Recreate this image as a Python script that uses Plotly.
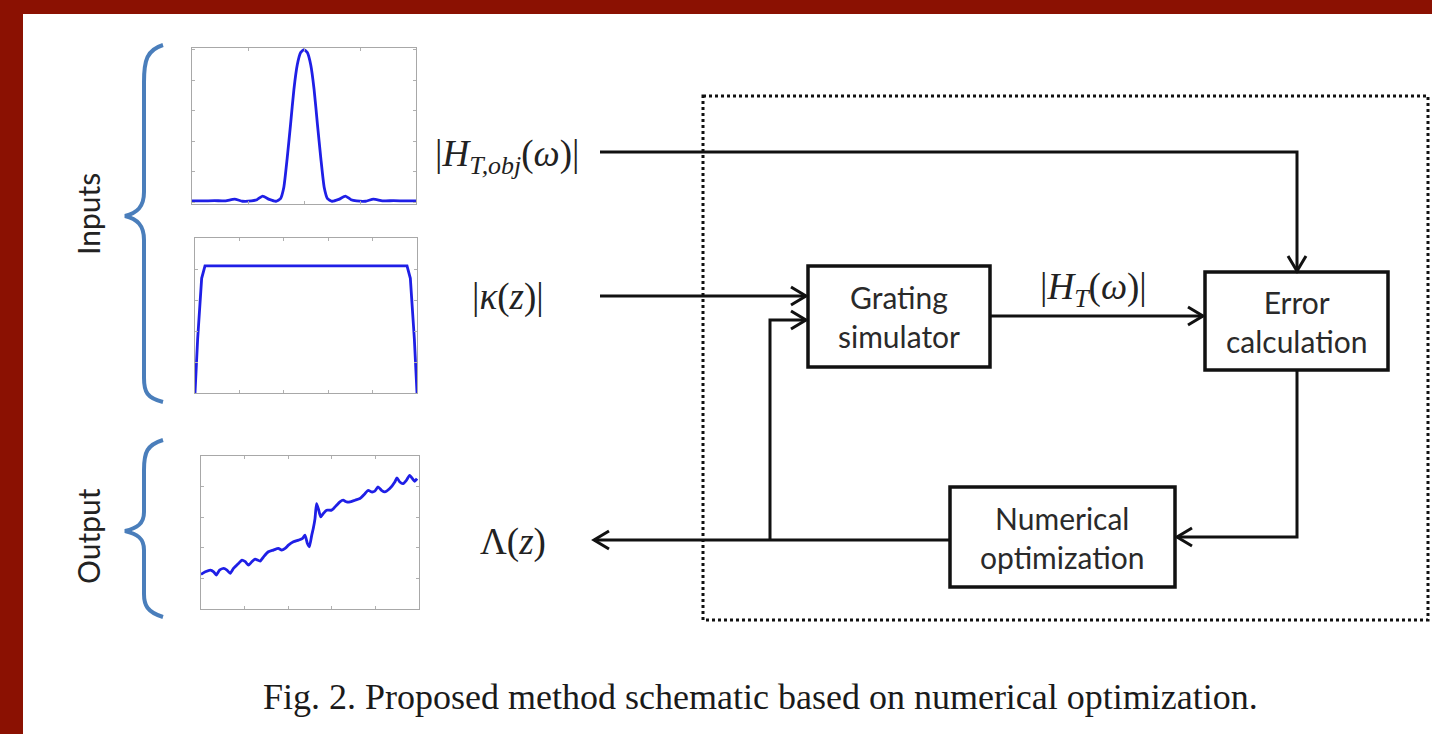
import plotly.graph_objects as go

W, H = 1432, 734

# ---- data for the three small inset plots ----
# Target transmission |H_T,obj(w)| vs normalized frequency
freq = [-1.0, -0.9, -0.8, -0.7, -0.62, -0.55, -0.47, -0.42, -0.37, -0.31, -0.25,
        -0.21, -0.18, -0.15, -0.12, -0.09, -0.06, -0.03, 0.0,
        0.03, 0.06, 0.09, 0.12, 0.15, 0.18, 0.21, 0.25, 0.31, 0.37, 0.42,
        0.47, 0.55, 0.62, 0.7, 0.8, 0.9, 1.0]
h_obj = [0.010, 0.010, 0.012, 0.010, 0.022, 0.008, 0.010, 0.018, 0.042, 0.020, 0.008,
         0.025, 0.100, 0.290, 0.510, 0.740, 0.900, 0.980, 1.000,
         0.980, 0.900, 0.740, 0.510, 0.290, 0.100, 0.025, 0.008, 0.020, 0.042, 0.018,
         0.010, 0.008, 0.022, 0.010, 0.012, 0.010, 0.010]

# Coupling profile |kappa(z)| vs normalized position
z_kappa = [0.0, 0.012, 0.03, 0.045, 0.5, 0.955, 0.97, 0.988, 1.0]
kappa = [0.0, 0.35, 0.74, 0.82, 0.82, 0.82, 0.74, 0.35, 0.0]

# Output period profile Lambda(z) vs normalized position
z_lambda = [0.000, 0.020, 0.043, 0.058, 0.070, 0.085, 0.104, 0.119, 0.134, 0.149,
            0.172, 0.188, 0.203, 0.218, 0.233, 0.248, 0.271, 0.287, 0.309, 0.332,
            0.355, 0.370, 0.386, 0.401, 0.424, 0.447, 0.466, 0.477, 0.488, 0.497,
            0.508, 0.515, 0.523, 0.530, 0.538, 0.549, 0.561, 0.576, 0.599, 0.622,
            0.637, 0.652, 0.668, 0.683, 0.706, 0.729, 0.752, 0.767, 0.782, 0.797,
            0.812, 0.828, 0.843, 0.866, 0.889, 0.899, 0.912, 0.927, 0.942, 0.957,
            0.970, 0.980, 0.991]
lam = [0.226, 0.243, 0.254, 0.243, 0.222, 0.254, 0.265, 0.254, 0.233, 0.265,
       0.298, 0.320, 0.309, 0.287, 0.309, 0.326, 0.313, 0.341, 0.374, 0.385,
       0.396, 0.385, 0.396, 0.417, 0.439, 0.450, 0.461, 0.483, 0.428, 0.407,
       0.483, 0.526, 0.591, 0.689, 0.657, 0.602, 0.624, 0.646, 0.646, 0.678,
       0.700, 0.711, 0.700, 0.700, 0.711, 0.722, 0.754, 0.776, 0.765, 0.770,
       0.798, 0.776, 0.765, 0.787, 0.830, 0.857, 0.830, 0.820, 0.841, 0.874,
       0.852, 0.835, 0.852]

# ---- diagram text ----
box_labels = ["Grating<br>simulator", "Error<br>calculation", "Numerical<br>optimization"]
signal_labels = ["|<i>H</i><sub><i>T,obj</i></sub>(<i>ω</i>)|", "|<i>κ</i>(<i>z</i>)|",
                 "|<i>H</i><sub><i>T</i></sub>(<i>ω</i>)|", "Λ(<i>z</i>)"]
group_labels = ["Inputs", "Output"]
caption = "Fig. 2. Proposed method schematic based on numerical optimization."

BLUE = "#1f1fe6"
BRACE = "#4a7ebb"
RED = "#8b1102"
INK = "#111111"

fig = go.Figure()

# inset plot frames (pixel boxes: x0, x1, ytop, ybottom)
insets = [(192, 416, 48, 204), (195, 417, 238, 393), (201, 419, 456, 609)]
series = [(freq, h_obj, [-1, 1], [-0.01, 1.01], "spline"),
          (z_kappa, kappa, [0, 1], [0, 1], "linear"),
          (z_lambda, lam, [0, 1], [0, 1], "spline")]

layout_axes = {}
for i, ((x0, x1, yt, yb), (xs, ys, xr, yr, shp)) in enumerate(zip(insets, series), start=2):
    line = dict(color=BLUE, width=2.8, shape=shp)
    if shp == "spline":
        line["smoothing"] = 0.5
    fig.add_trace(go.Scatter(x=xs, y=ys, mode="lines", xaxis=f"x{i}", yaxis=f"y{i}",
                             line=line, showlegend=False, hoverinfo="skip"))
    ax = dict(range=xr, domain=[x0 / W, x1 / W], anchor=f"y{i}", showgrid=False,
              zeroline=False, showticklabels=False, showline=True, mirror="ticks",
              linecolor="#a8a8a8", linewidth=1, ticks="inside", ticklen=3,
              tickcolor="#b0b0b0", nticks=7, fixedrange=True)
    ay = dict(range=yr, domain=[1 - yb / H, 1 - yt / H], anchor=f"x{i}", showgrid=False,
              zeroline=False, showticklabels=False, showline=True, mirror="ticks",
              linecolor="#a8a8a8", linewidth=1, ticks="inside", ticklen=3,
              tickcolor="#b0b0b0", nticks=9, fixedrange=True)
    layout_axes[f"xaxis{i}"] = ax
    layout_axes[f"yaxis{i}"] = ay

shapes = []
# white panel over red background
shapes.append(dict(type="rect", xref="x", yref="y", x0=23, y0=14, x1=W + 5, y1=H + 5,
                   fillcolor="white", line=dict(width=0), layer="below"))
# dotted frame
shapes.append(dict(type="rect", xref="x", yref="y", x0=703, y0=96, x1=1428, y1=620,
                   line=dict(color=INK, width=3, dash="dot"), layer="below"))

# boxes: x0, x1, y0, y1
boxes = [(808, 990, 266, 367), (1205, 1388, 272, 370), (950, 1175, 487, 587)]
for (bx0, bx1, by0, by1) in boxes:
    shapes.append(dict(type="rect", xref="x", yref="y", x0=bx0, x1=bx1, y0=by0, y1=by1,
                       line=dict(color=INK, width=3.5), fillcolor="white"))

def polyline(pts, width=3):
    d = "M " + " L ".join(f"{x},{y}" for x, y in pts)
    shapes.append(dict(type="path", xref="x", yref="y", path=d,
                       line=dict(color=INK, width=width)))

def head(x, y, direction):
    L, Wd = 15, 9
    if direction == "right":
        pts = [(x - L, y - Wd), (x, y), (x - L, y + Wd)]
    elif direction == "left":
        pts = [(x + L, y - Wd), (x, y), (x + L, y + Wd)]
    else:  # down
        pts = [(x - Wd, y - L), (x, y), (x + Wd, y - L)]
    polyline(pts, 3)

# connections
polyline([(600, 152), (1297, 152), (1297, 271)])
head(1297, 271, "down")
polyline([(600, 296), (806, 296)])
head(806, 296, "right")
polyline([(770, 540), (770, 320), (806, 320)])
head(806, 320, "right")
polyline([(990, 316), (1203, 316)])
head(1203, 316, "right")
polyline([(1297, 370), (1297, 537), (1177, 537)])
head(1177, 537, "left")
polyline([(950, 540), (594, 540)])
head(594, 540, "left")

# braces
shapes.append(dict(type="path", xref="x", yref="y",
                   path="M 163,45 C 147,50 144,60 144,82 L 144,192 C 144,207 137,213 125,216 "
                        "C 137,219 144,225 144,240 L 144,378 C 144,392 147,398 163,402",
                   line=dict(color=BRACE, width=4)))
shapes.append(dict(type="path", xref="x", yref="y",
                   path="M 163,440 C 147,445 144,452 144,470 L 144,512 C 144,524 137,528 125,531 "
                        "C 137,534 144,538 144,550 L 144,594 C 144,605 147,612 163,617",
                   line=dict(color=BRACE, width=4)))

annotations = []
serif = "Liberation Serif"
sans = "Lato"
# box labels
for (bx0, bx1, by0, by1), txt in zip(boxes, box_labels):
    annotations.append(dict(x=(bx0 + bx1) / 2, y=(by0 + by1) / 2, xref="x", yref="y",
                            text=txt, showarrow=False,
                            font=dict(family=sans, size=30, color="#2a2a2a")))
# signal labels
sig_pos = [(507, 156), (508, 297), (1093, 289), (513, 542)]
for (sx, sy), txt in zip(sig_pos, signal_labels):
    annotations.append(dict(x=sx, y=sy, xref="x", yref="y", text=txt, showarrow=False,
                            font=dict(family=serif, size=37, color="#222222")))
# group labels
for gy, txt in zip([214, 536], group_labels):
    annotations.append(dict(x=88, y=gy, xref="x", yref="y", text=txt, showarrow=False,
                            textangle=-90, font=dict(family=sans, size=30, color="#222222")))
annotations.append(dict(x=760, y=697, xref="x", yref="y", text=caption, showarrow=False,
                        font=dict(family=serif, size=36, color="#1a1a1a")))

fig.update_layout(
    width=W, height=H, margin=dict(l=0, r=0, t=0, b=0),
    paper_bgcolor=RED, plot_bgcolor="rgba(0,0,0,0)",
    xaxis=dict(range=[0, W], domain=[0, 1], visible=False, fixedrange=True),
    yaxis=dict(range=[H, 0], domain=[0, 1], visible=False, fixedrange=True),
    shapes=shapes, annotations=annotations, showlegend=False,
    **layout_axes,
)

fig.write_html("out.html", config={"displayModeBar": False})
